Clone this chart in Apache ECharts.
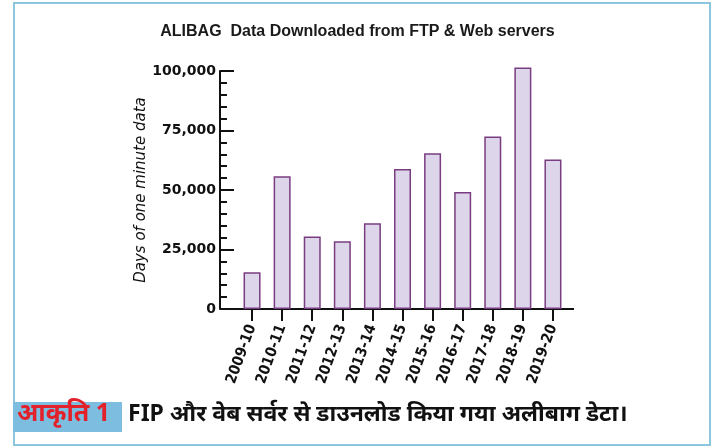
<!DOCTYPE html>
<html>
<head>
<meta charset="utf-8">
<script src="https://cdn.jsdelivr.net/npm/echarts@6/dist/echarts.min.js"></script>
<style>
  html, body { margin: 0; padding: 0; background: #fff; }
  #chart { width: 715px; height: 448px; }
</style>
</head>
<body>
<div id="chart"></div>
<script>
// data
var years = ['2009-10', '2010-11', '2011-12', '2012-13', '2013-14', '2014-15',
  '2015-16', '2016-17', '2017-18', '2018-19', '2019-20']
var daysOfData = [15400, 55800, 30500, 28500, 36000, 58800, 65400, 49200, 72500, 101500, 62800]
var yTicks = [0, 25000, 50000, 75000, 100000]

var titleText = 'ALIBAG  Data Downloaded from FTP & Web servers'
var yName = 'Days of one minute data'
var figLabel = 'आकृति 1'
var captionText = 'FIP और वेब सर्वर से डाउनलोड किया गया अलीबाग डेटा।'

var chart = echarts.init(document.getElementById('chart'))

chart.setOption({
  backgroundColor: '#fff',
  animation: false,
  title: {
    text: titleText,
    left: 'center',
    top: 19,
    textStyle: {
      fontFamily: 'Liberation Sans',
      fontSize: 16,
      fontWeight: 'bold',
      color: '#1a1a1a'
    }
  },
  grid: {
    left: 237,
    right: 147,
    top: 71,
    bottom: 139
  },
  xAxis: {
    type: 'category',
    data: years,
    axisLine: { show: false },
    axisTick: {
      show: true,
      alignWithLabel: true,
      length: 12,
      lineStyle: { color: '#111', width: 2 }
    },
    axisLabel: {
      rotate: 70,
      margin: 16,
      interval: 0,
      fontFamily: 'DejaVu Sans Condensed',
      fontWeight: 'bold',
      fontSize: 15,
      color: '#111'
    }
  },
  yAxis: {
    type: 'value',
    min: yTicks[0],
    max: yTicks[yTicks.length - 1],
    interval: 25000,
    offset: 17,
    name: yName,
    nameLocation: 'middle',
    nameRotate: 90,
    nameGap: 66,
    nameTextStyle: {
      fontFamily: 'DejaVu Sans',
      fontStyle: 'italic',
      fontSize: 15,
      color: '#111'
    },
    axisLine: { show: true, lineStyle: { color: '#111', width: 2 } },
    axisTick: {
      show: true,
      inside: true,
      length: 14,
      lineStyle: { color: '#111', width: 2 }
    },
    minorTick: {
      show: true,
      splitNumber: 5,
      length: 7,
      lineStyle: { color: '#111', width: 2 }
    },
    splitLine: { show: false },
    axisLabel: {
      margin: 4,
      fontFamily: 'DejaVu Sans',
      fontWeight: 'bold',
      fontSize: 14,
      color: '#111'
    }
  },
  series: [{
    type: 'bar',
    data: daysOfData,
    barWidth: 17,
    clip: false,
    itemStyle: {
      color: '#ddd5ea',
      borderColor: '#7a3c80',
      borderWidth: 1.5
    }
  }],
  graphic: [
    // outer frame
    {
      type: 'rect',
      shape: { x: 14, y: 3, width: 696, height: 442 },
      style: { fill: 'none', stroke: '#8cc6dd', lineWidth: 2 }
    },
    // x axis base line, longer than the category band
    {
      type: 'line',
      shape: { x1: 220, y1: 309, x2: 574, y2: 309 },
      style: { stroke: '#111', lineWidth: 2 }
    },
    // figure label box
    {
      type: 'rect',
      shape: { x: 13, y: 402, width: 109, height: 30 },
      style: { fill: '#7dbde0' }
    },
    {
      type: 'text',
      left: 17,
      top: 401,
      style: {
        text: figLabel,
        fontFamily: 'Noto Sans',
        fontWeight: 'bold',
        fontSize: 25,
        fill: '#e3212b'
      }
    },
    {
      type: 'text',
      left: 128,
      top: 403,
      style: {
        text: captionText,
        fontFamily: 'Noto Sans',
        fontWeight: 'bold',
        fontSize: 23,
        fill: '#111'
      }
    }
  ]
})
</script>
</body>
</html>
